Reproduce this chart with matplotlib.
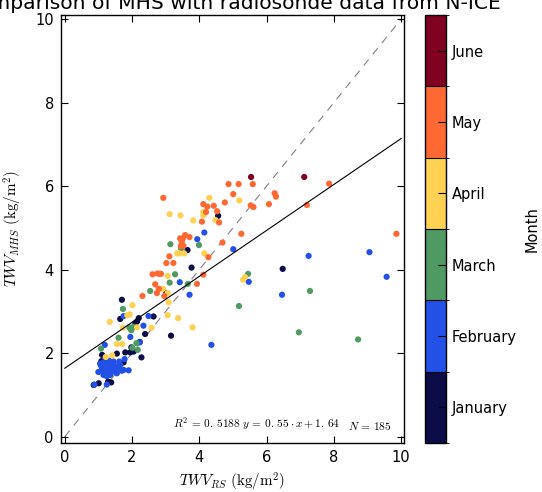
"""MHS vs radiosonde total water vapour, coloured by month"""
import numpy as np
import matplotlib
matplotlib.use('Agg')
import matplotlib.pyplot as plt
from matplotlib.colors import ListedColormap, BoundaryNorm

plt.rcParams['mathtext.fontset'] = 'cm'
plt.rcParams['font.family'] = 'DejaVu Sans'

# month names shown on the colour bar
months = ['January', 'February', 'March', 'April', 'May', 'June']
month_colors = ['#0c0c48', '#2350e6', '#4f9a63', '#fdd152', '#fe6833', '#80001f']

# (TWV_RS, TWV_MHS) per month
jan_rs = [4.56, 3.65, 3.77, 3.02, 6.48, 1.70, 1.65, 2.20, 2.15, 2.10, 2.64, 2.39, 3.16,
          1.98, 1.80, 1.95, 2.05, 2.28, 1.11, 1.55, 1.01, 0.86, 1.29, 1.38, 2.23, 1.75,
          1.22, 1.09]
jan_mhs = [5.29, 4.47, 4.05, 3.44, 4.02, 3.28, 2.82, 2.84, 2.76, 2.72, 2.88, 2.46, 2.42,
           2.14, 2.02, 2.02, 2.04, 1.90, 1.96, 1.99, 1.28, 1.24, 1.32, 1.30, 2.27, 1.78,
           1.84, 1.81]

feb_rs = [4.15, 3.94, 5.01, 3.42, 3.71, 5.47, 7.25, 9.06, 9.57, 6.46, 4.36, 2.49, 2.34,
          1.95, 1.19, 1.78, 1.90, 2.23, 1.75,
          1.05, 1.15, 1.25, 1.35, 1.45, 1.55, 1.60, 1.10, 1.20, 1.30, 1.40, 1.50, 1.65,
          1.15, 1.25, 1.35, 1.00, 1.45, 1.55, 1.70, 1.28, 1.38, 1.18, 1.48, 0.88, 1.25,
          1.75, 1.62, 1.08, 1.32]
feb_mhs = [4.89, 4.73, 4.49, 3.70, 3.40, 3.71, 4.33, 4.42, 3.83, 3.40, 2.20, 2.89, 2.66,
           2.39, 2.20, 1.86, 1.59, 2.26, 2.89,
           1.75, 1.78, 1.72, 1.70, 1.75, 1.68, 1.62, 1.60, 1.55, 1.50, 1.55, 1.60, 1.72,
           1.48, 1.45, 1.48, 1.55, 1.80, 1.52, 1.58, 1.62, 1.60, 1.68, 1.65, 1.25, 1.25,
           1.60, 1.80, 1.70, 1.82]

mar_rs = [3.28, 3.12, 2.54, 1.73, 1.95, 1.98, 2.04, 1.60, 2.13, 2.01, 2.17, 1.08, 5.45,
          5.18, 3.14, 3.46, 3.99, 3.66, 7.29, 6.96, 8.72, 1.92]
mar_mhs = [3.89, 3.69, 3.49, 3.06, 2.59, 2.55, 2.63, 2.37, 2.24, 2.13, 2.08, 2.11, 3.90,
           3.13, 4.61, 4.51, 4.59, 3.66, 3.49, 2.50, 2.33, 2.62]

apr_rs = [4.30, 3.12, 3.44, 3.82, 4.12, 4.12, 4.48, 5.19, 3.34, 3.41, 3.55, 4.15, 3.06,
          5.36, 2.79, 2.92, 3.09, 3.06, 3.06, 2.01, 1.86, 1.93, 1.34, 3.37, 3.80, 1.73,
          2.15, 2.58, 1.55, 1.71, 1.22, 1.41, 5.30]
apr_mhs = [5.72, 5.33, 5.30, 5.18, 5.38, 5.30, 5.19, 5.66, 4.39, 4.39, 4.39, 4.39, 3.85,
           3.82, 3.54, 3.54, 3.22, 3.44, 2.91, 3.15, 2.91, 2.93, 2.75, 2.84, 2.62, 2.61,
           2.62, 2.61, 2.22, 2.22, 1.91, 1.95, 3.76]

may_rs = [4.87, 5.17, 5.59, 2.93, 5.01, 4.12, 4.24, 4.43, 4.76, 4.20, 4.53, 4.08, 4.59,
          5.53, 5.25, 4.69, 3.58, 3.51, 3.43, 3.71, 3.48, 3.45, 3.53, 3.11, 3.02, 3.23,
          2.76, 2.82, 2.86, 2.61, 4.27, 4.12, 3.93, 2.69, 2.74, 2.31, 2.96, 6.24, 6.28,
          6.07, 5.61, 7.20, 7.86, 9.86, 2.80]
may_mhs = [6.05, 6.05, 6.05, 5.72, 5.81, 5.57, 5.51, 5.53, 5.61, 5.38, 5.40, 5.15, 5.13,
           5.54, 4.86, 4.65, 4.83, 4.75, 4.75, 4.78, 4.67, 4.57, 4.57, 4.32, 4.16, 4.16,
           3.91, 3.90, 3.90, 3.89, 4.30, 3.88, 3.66, 3.65, 3.44, 3.37, 3.37, 5.83, 5.75,
           5.57, 5.50, 5.55, 6.06, 4.86, 3.54]

jun_rs = [5.54, 7.12]
jun_mhs = [6.22, 6.22]

# fit shown in the annotation
slope, intercept = 0.55, 1.64
r_squared = '0.5188'
n_points = 185


def spaced(value):
    """old mathtext look: a small gap after the decimal point"""
    return value.replace('.', r'.\,')


def main():
    groups = [(jan_rs, jan_mhs), (feb_rs, feb_mhs), (mar_rs, mar_mhs),
              (apr_rs, apr_mhs), (may_rs, may_mhs), (jun_rs, jun_mhs)]
    x = np.concatenate([g[0] for g in groups])
    y = np.concatenate([g[1] for g in groups])
    month = np.concatenate([np.full(len(g[0]), i + 1) for i, g in enumerate(groups)])

    cmap = ListedColormap(month_colors)
    norm = BoundaryNorm(np.arange(0.5, 7.5, 1.0), cmap.N)

    fig = plt.figure(figsize=(5.42, 4.92), dpi=100)
    ax = fig.add_axes([0.112, 0.0996, 0.633, 0.87])
    cax = fig.add_axes([0.784, 0.0996, 0.0387, 0.87])

    sc = ax.scatter(x, y, c=month, cmap=cmap, norm=norm, s=20, linewidths=0, zorder=2)

    # 1:1 line and linear fit
    line_x = np.array([0.0, 10.0])
    ax.plot(line_x, line_x, color='0.5', linestyle=(0, (7, 6)), linewidth=0.8, zorder=1)
    ax.plot(line_x, slope * line_x + intercept, color='black', linewidth=0.8, zorder=3)

    ax.set_xlim(-0.12, 10.08)
    ax.set_ylim(-0.15, 10.1)
    ax.set_xticks(np.arange(0, 11, 2))
    ax.set_yticks(np.arange(0, 11, 2))
    ax.tick_params(direction='in', top=True, right=True, length=5, width=0.8,
                   labelsize=10.5, pad=5)
    for spine in ax.spines.values():
        spine.set_linewidth(1.0)

    ax.set_xlabel(r'$TWV_{RS}\ (\mathrm{kg/m^2})$', fontsize=10.8, labelpad=4)
    ax.set_ylabel(r'$TWV_{MHS}\ (\mathrm{kg/m^2})$', fontsize=10.8, labelpad=8)
    ax.set_title('Comparison of MHS with radiosonde data from N-ICE', fontsize=14.6, pad=4)

    eq = r'\,{=}\,'
    ax.text(0.327, 0.026,
            r'$R^2%s%s$ $y%s%s\cdot x + %s$' % (eq, spaced(r_squared), eq,
                                               spaced('%.2f' % slope),
                                               spaced('%.2f' % intercept)),
            transform=ax.transAxes, fontsize=8.2, ha='left', va='bottom')
    ax.text(0.966, 0.026, r'$N%s%d$' % (eq, n_points), transform=ax.transAxes,
            fontsize=8.2, ha='right', va='bottom')

    cb = fig.colorbar(sc, cax=cax, ticks=np.arange(1, 7), drawedges=True)
    cb.ax.set_yticklabels(months)
    cb.ax.tick_params(direction='in', length=6, width=0.8, labelsize=10.5, pad=4)
    cb.outline.set_linewidth(1.0)
    cb.dividers.set_linewidth(0.8)
    cb.set_label('Month', fontsize=10.5, labelpad=6)

    fig.savefig('out.png', dpi=100)


if __name__ == '__main__':
    main()
